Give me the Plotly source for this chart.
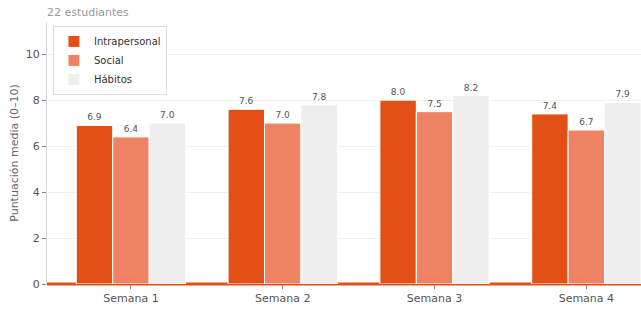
import plotly.graph_objects as go

weeks = ["Semana 1", "Semana 2", "Semana 3", "Semana 4"]
intrapersonal = [6.9, 7.6, 8.0, 7.4]
social = [6.4, 7.0, 7.5, 6.7]
habitos = [7.0, 7.8, 8.2, 7.9]
series_names = ["Intrapersonal", "Social", "Hábitos"]
colors = ["#E25016", "#F08264", "#EEEEEE"]
title_text = "22 estudiantes"
y_title = "Puntuación media (0–10)"
y_ticks = [0, 2, 4, 6, 8, 10]

FONT = "DejaVu Sans"
fig = go.Figure()
for name, vals, col in zip(series_names, [intrapersonal, social, habitos], colors):
    fig.add_trace(go.Bar(
        name=name, x=weeks, y=vals,
        marker=dict(color=col, line=dict(color="white", width=1)),
        text=[f"{v:.1f}" for v in vals], textposition="outside",
        textfont=dict(size=9, color="#555555", family=FONT),
        cliponaxis=False,
    ))

# orange baseline at y=0 drawn beneath the bars
fig.add_shape(type="line", xref="paper", yref="paper", x0=0, x1=1, y0=0, y1=0,
              line=dict(color=colors[0], width=3), layer="below")

fig.update_layout(
    width=641, height=309,
    margin=dict(l=47, r=0, t=22, b=25, autoexpand=False),
    paper_bgcolor="white", plot_bgcolor="rgba(0,0,0,0)",
    barmode="group", bargap=0.28, bargroupgap=0,
    font=dict(family=FONT, size=11, color="#555555"),
    title=dict(text=title_text, x=47/641, xanchor="left", y=1-12/309, yanchor="middle",
               font=dict(size=11, color="#999999", family=FONT)),
    legend=dict(x=0.01, y=0.985, xanchor="left", yanchor="top",
                bgcolor="white", bordercolor="#DDDDDD", borderwidth=1,
                itemwidth=30,
                font=dict(size=10, color="#333333", family=FONT)),
    showlegend=True,
)
fig.update_xaxes(range=[-0.553, 3.36], showgrid=False, showline=False, automargin=False,
                 ticks="outside", ticklen=4, tickcolor="#888888",
                 tickfont=dict(size=11, color="#555555"))
fig.update_yaxes(range=[0, 11.4], tickvals=y_ticks, showgrid=True, gridcolor="#F0F0F0",
                 zeroline=False, showline=True, linecolor="#D8D8D8", linewidth=1, automargin=False,
                 ticks="outside", ticklen=4, tickcolor="#888888",
                 tickfont=dict(size=11, color="#555555"),
                 title=dict(text=y_title, font=dict(size=11, color="#666666"), standoff=4))
fig.write_html("out.html", config={"displayModeBar": False},
               post_script="document.body.style.margin='0';document.body.style.overflow='hidden';")
